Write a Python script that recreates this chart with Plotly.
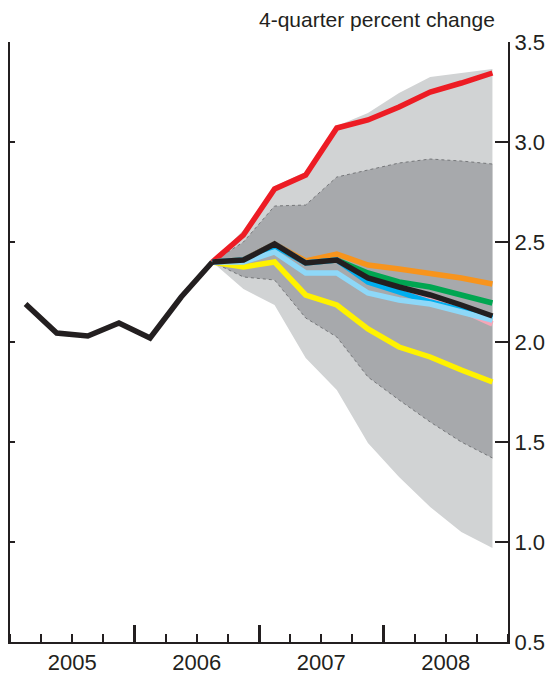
import plotly.graph_objects as go

# ---- data ----
quarters = ["2005Q1", "2005Q2", "2005Q3", "2005Q4", "2006Q1", "2006Q2", "2006Q3",
            "2006Q4", "2007Q1", "2007Q2", "2007Q3", "2007Q4",
            "2008Q1", "2008Q2", "2008Q3", "2008Q4"]
year_labels = ["2005", "2006", "2007", "2008"]

history = [2.19, 2.045, 2.03, 2.095, 2.02, 2.225, 2.40]          # 2005Q1-2006Q3

# forecasts 2006Q3-2008Q4
baseline   = [2.40, 2.41, 2.49, 2.395, 2.41, 2.32, 2.275, 2.235, 2.185, 2.13]
red_s      = [2.40, 2.535, 2.765, 2.835, 3.07, 3.11, 3.175, 3.25, 3.295, 3.345]
orange_s   = [2.40, 2.41, 2.49, 2.405, 2.44, 2.385, 2.365, 2.345, 2.32, 2.29]
green_s    = [2.40, 2.41, 2.49, 2.395, 2.41, 2.345, 2.30, 2.275, 2.235, 2.195]
blue_s     = [2.40, 2.41, 2.48, 2.395, 2.41, 2.30, 2.25, 2.20, 2.16, 2.12]
pink_s     = [2.40, 2.41, 2.49, 2.395, 2.41, 2.31, 2.26, 2.21, 2.16, 2.09]
ltblue_s   = [2.40, 2.40, 2.45, 2.345, 2.345, 2.245, 2.21, 2.19, 2.15, 2.11]
yellow_s   = [2.40, 2.375, 2.40, 2.235, 2.185, 2.065, 1.975, 1.925, 1.86, 1.80]

outer_upper = [2.40, 2.56, 2.78, 2.85, 3.08, 3.145, 3.245, 3.325, 3.345, 3.365]
inner_upper = [2.40, 2.50, 2.68, 2.685, 2.825, 2.86, 2.895, 2.915, 2.905, 2.89]
inner_lower = [2.40, 2.325, 2.31, 2.12, 2.025, 1.825, 1.71, 1.60, 1.50, 1.42]
outer_lower = [2.40, 2.265, 2.185, 1.92, 1.76, 1.495, 1.325, 1.175, 1.05, 0.97]

y_ticks = [0.5, 1.0, 1.5, 2.0, 2.5, 3.0, 3.5]

# ---- positions ----
xi = list(range(len(quarters)))
x_hist = xi[:len(history)]
x_fc = xi[len(history) - 1:]
year_centers = [1.5 + 4 * i for i in range(len(year_labels))]
year_bounds = [-0.5 + 4 * i for i in range(len(year_labels) + 1)]

INK = "#231f20"
FONT = "Liberation Sans, Arial, sans-serif"
LW = 5.5

fig = go.Figure()

# bands
fig.add_trace(go.Scatter(x=x_fc, y=outer_lower, mode="lines", line=dict(width=0),
                         hoverinfo="skip", showlegend=False))
fig.add_trace(go.Scatter(x=x_fc, y=outer_upper, mode="lines", line=dict(width=0),
                         fill="tonexty", fillcolor="#d1d3d4", hoverinfo="skip", showlegend=False))
fig.add_trace(go.Scatter(x=x_fc, y=inner_lower, mode="lines",
                         line=dict(width=0.7, color="#58595b", dash="dot"),
                         hoverinfo="skip", showlegend=False))
fig.add_trace(go.Scatter(x=x_fc, y=inner_upper, mode="lines",
                         line=dict(width=0.7, color="#58595b", dash="dot"),
                         fill="tonexty", fillcolor="#a7a9ac", hoverinfo="skip", showlegend=False))

series = [
    (red_s, "#ed1c24"),
    (yellow_s, "#fff200"),
    (orange_s, "#f7941d"),
    (green_s, "#00a651"),
    (pink_s, "#f4a6b7"),
    (blue_s, "#00aeef"),
    (ltblue_s, "#8ed8f8"),
    (baseline, INK),
]
for vals, col in series:
    fig.add_trace(go.Scatter(x=x_fc, y=vals, mode="lines",
                             line=dict(color=col, width=LW), showlegend=False))

fig.add_trace(go.Scatter(x=x_hist, y=history, mode="lines",
                         line=dict(color=INK, width=LW), showlegend=False))

# helper invisible traces for overlay axes
fig.add_trace(go.Scatter(x=[xi[0]], y=[history[0]], xaxis="x2", yaxis="y2",
                         mode="markers", marker=dict(opacity=0), hoverinfo="skip", showlegend=False))
fig.add_trace(go.Scatter(x=[xi[0]], y=[history[0]], xaxis="x3", yaxis="y",
                         mode="markers", marker=dict(opacity=0), hoverinfo="skip", showlegend=False))

xr = [-0.5, len(quarters) - 0.5]
yr = [0.5, 3.5]

fig.update_layout(
    width=555, height=681,
    margin=dict(l=2, r=55, t=34, b=47),
    paper_bgcolor="white", plot_bgcolor="white",
    font=dict(family=FONT, color=INK),
    xaxis=dict(range=xr, showgrid=False, zeroline=False, showline=True,
               linecolor=INK, linewidth=2, tickmode="array", tickvals=year_centers,
               ticktext=year_labels, ticks="", tickfont=dict(size=22, color=INK),
               minor=dict(tickmode="linear", tick0=-0.5, dtick=1, ticks="inside",
                          ticklen=8, tickwidth=2, tickcolor=INK, showgrid=False)),
    xaxis3=dict(range=xr, overlaying="x", side="bottom", showgrid=False, zeroline=False,
                showline=False, tickmode="array", tickvals=year_bounds,
                ticktext=[""] * len(year_bounds), ticks="inside", ticklen=17,
                tickwidth=2.5, tickcolor=INK),
    xaxis2=dict(range=xr, overlaying="x", side="bottom", visible=False),
    yaxis=dict(range=yr, showgrid=False, zeroline=False, showline=True, linecolor=INK,
               linewidth=2, tickmode="array", tickvals=y_ticks,
               ticktext=[""] * len(y_ticks), ticks="inside", ticklen=5, tickwidth=2,
               tickcolor=INK),
    yaxis2=dict(range=yr, overlaying="y", side="right", showgrid=False, zeroline=False,
                showline=True, linecolor=INK, linewidth=2, tickmode="array",
                tickvals=y_ticks, ticktext=[f"{v:.1f}" for v in y_ticks],
                ticks="inside", ticklen=13, tickwidth=2, tickcolor=INK,
                tickfont=dict(size=22, color=INK)),
    annotations=[dict(text="4-quarter percent change", xref="paper", yref="paper",
                      x=0.978, y=1.038, xanchor="right", yanchor="middle",
                      showarrow=False, font=dict(size=21, color=INK))],
)

fig.write_html("out.html")
